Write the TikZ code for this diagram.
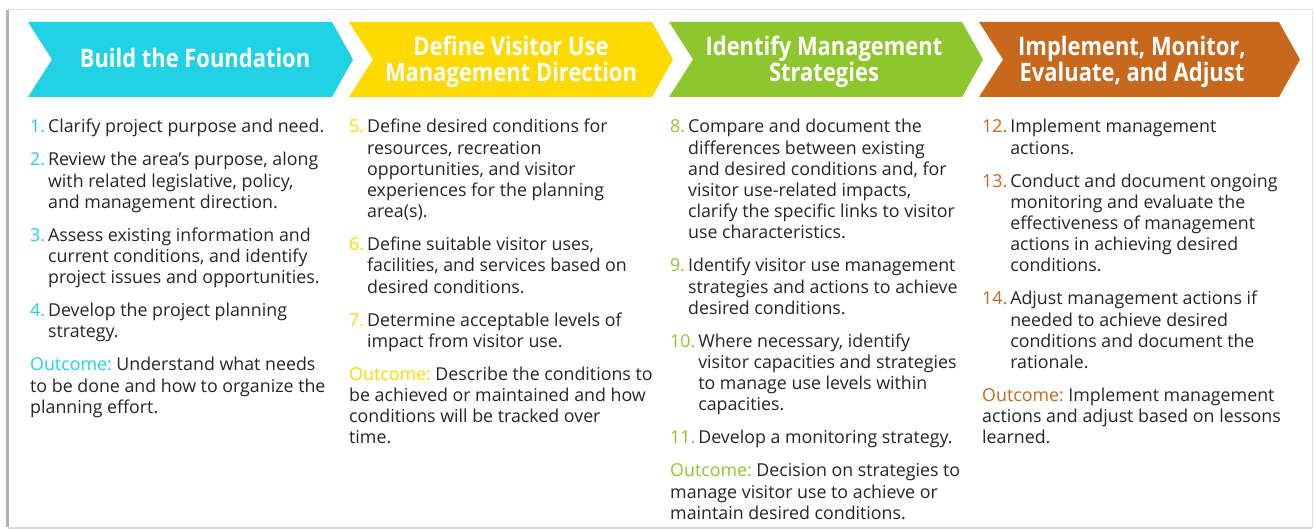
\documentclass[tikz,border=0pt]{standalone}
\usepackage{fontspec}
\setmainfont{Open Sans}
\newfontfamily\headfont[FakeStretch=0.86]{Open Sans}
\definecolor{buildcol}{RGB}{32,210,228}
\definecolor{definecol}{RGB}{254,218,0}
\definecolor{identcol}{RGB}{141,199,45}
\definecolor{implcol}{RGB}{200,104,28}
\newcommand{\full}[1]{\multicolumn{1}{@{}l@{}}{#1}}
\newcommand{\stepitem}[3]{\full{\textcolor{#1}{#2}\hspace{3pt}\begin{tabular}[t]{@{}l@{}}#3\end{tabular}}}
\newcommand{\outcome}[2]{\full{\textcolor{#1}{Outcome:} #2}}
\newcommand{\pgap}{\\\noalign{\vskip 11.8pt}}
\frenchspacing

\begin{document}
\begin{tikzpicture}[x=1pt,y=-1pt,
  head/.style={text=white,align=center,inner sep=0pt,
    font=\headfont\bfseries\fontsize{25.5}{26}\selectfont},
  steps/.style={anchor=base west,inner sep=0pt,text=black!85,
    font=\frenchspacing\fontsize{17.8}{21.2}\selectfont}]
% card
\useasboundingbox (0,0) rectangle (1314,529);
\fill[white] (0,0) rectangle (1314,529);
\draw[black!12] (8,9) rectangle (1312,527);
\draw[black!30, line width=3pt] (7,10) -- (7,527);
\draw[black!15, line width=2pt] (8,528) -- (1312,528);

% chevrons
\foreach \l/\r/\c in {28/332/buildcol,349/652/definecol,669/962/identcol,979/1279/implcol}
  \fill[\c] (\l,22) -- (\r,22) -- (\r+21,59.5) -- (\r,97) -- (\l,97) -- (\l+24,59.5) -- cycle;

% headings
\node[head] (build) at (195,58) {Build the Foundation};
\node[head] (define) at (511,62) {Define Visitor Use\\Management Direction};
\node[head] (identify) at (824,62) {Identify Management\\Strategies};
\node[head] (implement) at (1132,62) {Implement, Monitor,\\Evaluate, and Adjust};

% build the foundation
\node[steps] (buildsteps) at (30,133) {\begin{tabular}[t]{@{}l@{}}
\stepitem{buildcol}{1.}{Clarify project purpose and need.}\pgap
\stepitem{buildcol}{2.}{Review the area’s purpose, along\\
  with related legislative, policy,\\
  and management direction.}\pgap
\stepitem{buildcol}{3.}{Assess existing information and\\
  current conditions, and identify\\
  project issues and opportunities.}\pgap
\stepitem{buildcol}{4.}{Develop the project planning\\
  strategy.}\pgap
\outcome{buildcol}{Understand what needs}\\
to be done and how to organize the\\
planning effort.
\end{tabular}};

% define direction
\node[steps] (definesteps) at (349,133) {\begin{tabular}[t]{@{}l@{}}
\stepitem{definecol}{5.}{Define desired conditions for\\
  resources, recreation\\
  opportunities, and visitor\\
  experiences for the planning\\
  area(s).}\pgap
\stepitem{definecol}{6.}{Define suitable visitor uses,\\
  facilities, and services based on\\
  desired conditions.}\pgap
\stepitem{definecol}{7.}{Determine acceptable levels of\\
  impact from visitor use.}\pgap
\outcome{definecol}{Describe the conditions to}\\
be achieved or maintained and how\\
conditions will be tracked over\\
time.
\end{tabular}};

% identify strategies
\node[steps] (identsteps) at (670,133) {\begin{tabular}[t]{@{}l@{}}
\stepitem{identcol}{8.}{Compare and document the\\
  differences between existing\\
  and desired conditions and, for\\
  visitor use-related impacts,\\
  clarify the specific links to visitor\\
  use characteristics.}\pgap
\stepitem{identcol}{9.}{Identify visitor use management\\
  strategies and actions to achieve\\
  desired conditions.}\pgap
\stepitem{identcol}{10.}{Where necessary, identify\\
  visitor capacities and strategies\\
  to manage use levels within\\
  capacities.}\pgap
\stepitem{identcol}{11.}{Develop a monitoring strategy.}\pgap
\outcome{identcol}{Decision on strategies to}\\
manage visitor use to achieve or\\
maintain desired conditions.
\end{tabular}};

% implement and adjust
\node[steps] (implsteps) at (982,133) {\begin{tabular}[t]{@{}l@{}}
\stepitem{implcol}{12.}{Implement management\\
  actions.}\pgap
\stepitem{implcol}{13.}{Conduct and document ongoing\\
  monitoring and evaluate the\\
  effectiveness of management\\
  actions in achieving desired\\
  conditions.}\pgap
\stepitem{implcol}{14.}{Adjust management actions if\\
  needed to achieve desired\\
  conditions and document the\\
  rationale.}\pgap
\outcome{implcol}{Implement management}\\
actions and adjust based on lessons\\
learned.
\end{tabular}};
\end{tikzpicture}
\end{document}
